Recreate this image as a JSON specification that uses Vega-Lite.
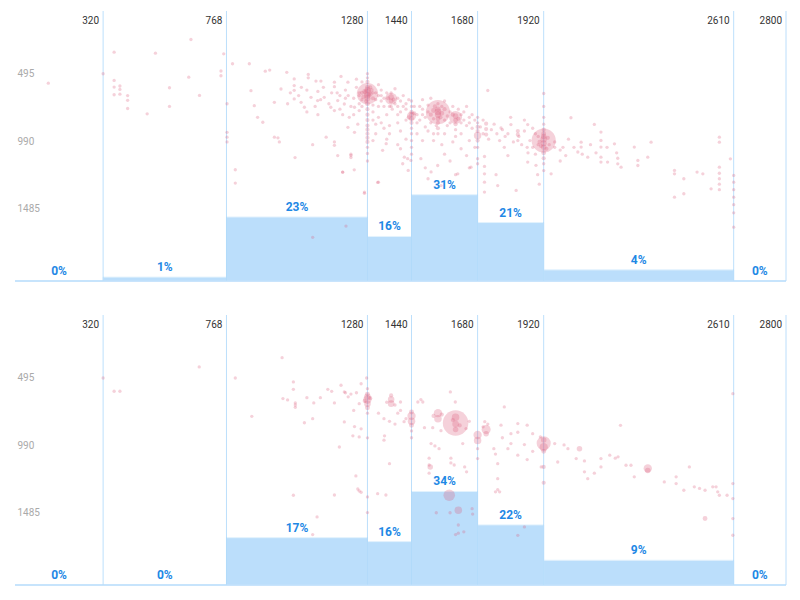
{
  "$schema": "https://vega.github.io/schema/vega-lite/v6.json",
  "padding": {"left": 14, "top": 10, "right": 15, "bottom": 17},
  "spacing": 32,
  "config": {"view": {"stroke": null}, "font": "Roboto"},
  "vconcat": [
    {
      "width": 771,
      "height": 270,
      "layer": [
        {
          "data": {"values": [
            {"lo": 0, "hi": 320, "mid": 160, "pct": 0},
            {"lo": 320, "hi": 768, "mid": 544, "pct": 0.014},
            {"lo": 768, "hi": 1280, "mid": 1024, "pct": 0.23},
            {"lo": 1280, "hi": 1440, "mid": 1360, "pct": 0.16},
            {"lo": 1440, "hi": 1680, "mid": 1560, "pct": 0.31},
            {"lo": 1680, "hi": 1920, "mid": 1800, "pct": 0.21},
            {"lo": 1920, "hi": 2610, "mid": 2265, "pct": 0.04},
            {"lo": 2610, "hi": 2800, "mid": 2705, "pct": 0}
          ]},
          "layer": [
            {
              "mark": {"type": "rect", "color": "#bbdefb", "stroke": "#e3f2fd", "strokeWidth": 1},
              "encoding": {
                "x": {"field": "lo", "type": "quantitative", "scale": {"domain": [0, 2800], "nice": false}, "axis": null},
                "x2": {"field": "hi"},
                "y": {"field": "pct", "type": "quantitative", "scale": {"domain": [0, 0.97], "nice": false}, "axis": null},
                "y2": {"datum": 0}
              }
            },
            {
              "mark": {"type": "text", "color": "#1e88e5", "fontWeight": "bold", "fontSize": 12, "baseline": "bottom", "dy": -3},
              "encoding": {
                "x": {"field": "mid", "type": "quantitative"},
                "y": {"field": "pct", "type": "quantitative"},
                "text": {"field": "pct", "type": "quantitative", "format": ".0%"}
              }
            }
          ]
        },
        {
          "layer": [
            {
              "data": {"values": [{"hi": 320}, {"hi": 768}, {"hi": 1280}, {"hi": 1440}, {"hi": 1680}, {"hi": 1920}, {"hi": 2610}, {"hi": 2800}]},
              "mark": {"type": "rule", "color": "#90caf9", "opacity": 0.6, "strokeWidth": 1},
              "encoding": {
                "x": {"field": "hi", "type": "quantitative", "scale": {"domain": [0, 2800], "nice": false}, "axis": null}
              }
            },
            {
              "data": {"values": [{}]},
              "mark": {"type": "rule", "color": "#bbdefb", "strokeWidth": 1.5},
              "encoding": {"y": {"datum": 1980}}
            },
            {
              "data": {"values": [
                {"w":121,"h":529,"n":1},{"w":320,"h":460,"n":1},{"w":360,"h":302,"n":1},{"w":360,"h":509,"n":1},{"w":360,"h":558,"n":1},{"w":360,"h":614,"n":1},{"w":381,"h":550,"n":1},{"w":381,"h":575,"n":1},{"w":381,"h":610,"n":1},{"w":409,"h":620,"n":1},{"w":409,"h":655,"n":1},{"w":409,"h":715,"n":1},{"w":510,"h":309,"n":1},{"w":561,"h":563,"n":1},{"w":561,"h":700,"n":1},{"w":480,"h":754,"n":1},{"w":639,"h":209,"n":1},{"w":631,"h":485,"n":1},{"w":670,"h":619,"n":1},{"w":758,"h":314,"n":1},{"w":748,"h":440,"n":1},{"w":748,"h":475,"n":1},{"w":770,"h":890,"n":1},{"w":770,"h":925,"n":1},{"w":770,"h":960,"n":1},{"w":770,"h":680,"n":1},{"w":800,"h":1164,"n":1},{"w":800,"h":1262,"n":1},
                {"w":790,"h":387,"n":1},{"w":851,"h":387,"n":1},{"w":909,"h":441,"n":1},{"w":925,"h":433,"n":1},{"w":987,"h":450,"n":1},{"w":1014,"h":498,"n":1},{"w":1014,"h":547,"n":1},{"w":1014,"h":582,"n":1},{"w":1065,"h":465,"n":1},{"w":1065,"h":490,"n":1},{"w":1093,"h":514,"n":1},{"w":1111,"h":514,"n":1},{"w":1160,"h":522,"n":1},{"w":1160,"h":555,"n":1},{"w":1184,"h":480,"n":1},{"w":1209,"h":522,"n":1},{"w":857,"h":584,"n":1},{"w":869,"h":694,"n":1},{"w":900,"h":816,"n":1},{"w":881,"h":780,"n":1},{"w":942,"h":670,"n":1},{"w":966,"h":572,"n":1},{"w":990,"h":680,"n":1},{"w":1014,"h":645,"n":1},{"w":1039,"h":670,"n":1},{"w":1051,"h":706,"n":1},{"w":1075,"h":633,"n":1},{"w":1099,"h":657,"n":1},{"w":1123,"h":633,"n":1},{"w":1147,"h":706,"n":1},{"w":1160,"h":730,"n":1},{"w":1172,"h":657,"n":1},{"w":1196,"h":682,"n":1},{"w":1214,"h":780,"n":1},{"w":1233,"h":706,"n":1},{"w":1130,"h":925,"n":1},{"w":1160,"h":960,"n":1},{"w":1160,"h":985,"n":1},{"w":1209,"h":853,"n":1},{"w":1172,"h":1060,"n":1},{"w":1190,"h":1182,"n":1},{"w":1220,"h":1050,"n":1},{"w":1220,"h":1075,"n":1},{"w":1233,"h":890,"n":1},{"w":1245,"h":830,"n":1},{"w":942,"h":925,"n":1},{"w":955,"h":930,"n":1},{"w":960,"h":960,"n":1},{"w":1017,"h":1075,"n":1},{"w":1081,"h":980,"n":1},{"w":1202,"h":1577,"n":1},{"w":1081,"h":1660,"n":1},{"w":1317,"h":1257,"n":1},{"w":1269,"h":1337,"n":1},{"w":1280,"h":1100,"n":1},{"w":1040,"h":560,"n":1},{"w":1100,"h":590,"n":1},{"w":1120,"h":560,"n":1},{"w":1150,"h":600,"n":1},{"w":1180,"h":620,"n":1},{"w":1200,"h":580,"n":1},{"w":1240,"h":560,"n":1},{"w":1250,"h":600,"n":1},{"w":1230,"h":640,"n":1},{"w":1260,"h":650,"n":1},{"w":1210,"h":620,"n":1},{"w":1190,"h":760,"n":1},{"w":1230,"h":760,"n":1},{"w":1250,"h":730,"n":1},{"w":1260,"h":520,"n":1},{"w":1240,"h":500,"n":1},
                {"w":1000,"h":600,"n":1},{"w":1030,"h":620,"n":1},{"w":1060,"h":580,"n":1},{"w":1090,"h":700,"n":1},{"w":1110,"h":650,"n":1},{"w":1140,"h":680,"n":1},{"w":1170,"h":600,"n":1},{"w":1200,"h":640,"n":1},{"w":1220,"h":700,"n":1},{"w":1250,"h":680,"n":1},{"w":1180,"h":720,"n":1},{"w":1100,"h":760,"n":1},{"w":1060,"h":740,"n":1},
                {"w":1280,"h":607,"n":70},{"w":1280,"h":600,"n":8},{"w":1280,"h":620,"n":6},{"w":1280,"h":580,"n":5},{"w":1280,"h":640,"n":5},{"w":1280,"h":560,"n":3},{"w":1280,"h":680,"n":3},{"w":1280,"h":720,"n":2},{"w":1280,"h":760,"n":2},{"w":1280,"h":800,"n":2},{"w":1280,"h":840,"n":2},{"w":1280,"h":870,"n":2},{"w":1280,"h":900,"n":2},{"w":1280,"h":930,"n":2},{"w":1280,"h":960,"n":2},{"w":1280,"h":1000,"n":1},{"w":1280,"h":1045,"n":1},{"w":1280,"h":520,"n":2},{"w":1280,"h":490,"n":1},{"w":1280,"h":460,"n":1},{"w":1270,"h":590,"n":3},{"w":1290,"h":610,"n":3},{"w":1265,"h":630,"n":2},{"w":1295,"h":580,"n":2},{"w":1260,"h":600,"n":2},{"w":1300,"h":640,"n":2},{"w":1275,"h":660,"n":2},{"w":1290,"h":560,"n":2},{"w":1300,"h":690,"n":1},{"w":1260,"h":700,"n":1},{"w":1310,"h":600,"n":1},{"w":1250,"h":620,"n":1},
                {"w":1366,"h":644,"n":22},{"w":1366,"h":630,"n":4},{"w":1366,"h":660,"n":3},{"w":1355,"h":640,"n":2},{"w":1375,"h":650,"n":2},{"w":1366,"h":700,"n":1},{"w":1366,"h":600,"n":1},{"w":1320,"h":620,"n":1},{"w":1330,"h":660,"n":1},{"w":1340,"h":700,"n":1},{"w":1300,"h":740,"n":1},{"w":1320,"h":780,"n":1},{"w":1350,"h":760,"n":1},{"w":1390,"h":700,"n":1},{"w":1400,"h":740,"n":1},{"w":1420,"h":680,"n":1},{"w":1410,"h":620,"n":1},{"w":1330,"h":580,"n":1},{"w":1320,"h":540,"n":1},{"w":1380,"h":570,"n":1},{"w":1310,"h":830,"n":1},{"w":1340,"h":860,"n":1},{"w":1360,"h":900,"n":1},{"w":1390,"h":820,"n":1},{"w":1400,"h":880,"n":1},{"w":1300,"h":950,"n":1},{"w":1335,"h":1022,"n":1},{"w":1348,"h":973,"n":1},{"w":1320,"h":1255,"n":1},{"w":1269,"h":1328,"n":1},{"w":1232,"h":1165,"n":1},{"w":1190,"h":1181,"n":1},{"w":1220,"h":1059,"n":1},{"w":1408,"h":1120,"n":1},{"w":1426,"h":1083,"n":1},{"w":1438,"h":1096,"n":1},
                {"w":1300,"h":600,"n":1},{"w":1310,"h":650,"n":1},{"w":1320,"h":700,"n":1},{"w":1330,"h":620,"n":1},{"w":1340,"h":640,"n":1},{"w":1350,"h":600,"n":1},{"w":1360,"h":700,"n":1},{"w":1370,"h":720,"n":1},{"w":1380,"h":680,"n":1},{"w":1390,"h":640,"n":1},{"w":1400,"h":660,"n":1},{"w":1410,"h":700,"n":1},{"w":1420,"h":720,"n":1},{"w":1430,"h":650,"n":1},{"w":1300,"h":800,"n":1},{"w":1330,"h":820,"n":1},{"w":1360,"h":840,"n":1},{"w":1390,"h":760,"n":1},{"w":1420,"h":800,"n":1},{"w":1310,"h":900,"n":1},{"w":1350,"h":940,"n":1},{"w":1390,"h":980,"n":1},{"w":1420,"h":940,"n":1},{"w":1400,"h":1010,"n":1},
                {"w":1440,"h":770,"n":12},{"w":1440,"h":760,"n":3},{"w":1440,"h":790,"n":3},{"w":1440,"h":740,"n":2},{"w":1440,"h":820,"n":2},{"w":1440,"h":700,"n":1},{"w":1440,"h":660,"n":1},{"w":1440,"h":860,"n":1},{"w":1440,"h":900,"n":1},{"w":1440,"h":950,"n":1},{"w":1440,"h":1000,"n":1},{"w":1440,"h":1050,"n":1},{"w":1430,"h":780,"n":2},{"w":1450,"h":750,"n":2},{"w":1414,"h":1072,"n":1},{"w":1428,"h":1169,"n":1},{"w":1460,"h":820,"n":1},{"w":1470,"h":700,"n":1},{"w":1480,"h":760,"n":1},{"w":1490,"h":850,"n":1},{"w":1474,"h":1083,"n":1},{"w":1490,"h":1150,"n":1},{"w":1500,"h":1230,"n":1},{"w":1511,"h":1180,"n":1},
                {"w":1450,"h":700,"n":1},{"w":1460,"h":760,"n":1},{"w":1470,"h":800,"n":1},{"w":1480,"h":720,"n":1},{"w":1490,"h":780,"n":1},{"w":1500,"h":690,"n":1},{"w":1510,"h":820,"n":1},{"w":1520,"h":790,"n":1},{"w":1530,"h":840,"n":1},{"w":1550,"h":700,"n":1},{"w":1560,"h":800,"n":1},{"w":1570,"h":840,"n":1},{"w":1580,"h":740,"n":1},{"w":1590,"h":700,"n":1},{"w":1610,"h":720,"n":1},{"w":1620,"h":820,"n":1},{"w":1630,"h":740,"n":1},{"w":1640,"h":700,"n":1},{"w":1650,"h":820,"n":1},{"w":1660,"h":760,"n":1},{"w":1670,"h":800,"n":1},{"w":1460,"h":900,"n":1},{"w":1480,"h":950,"n":1},{"w":1500,"h":880,"n":1},{"w":1520,"h":900,"n":1},{"w":1560,"h":900,"n":1},{"w":1590,"h":960,"n":1},{"w":1620,"h":900,"n":1},{"w":1650,"h":950,"n":1},{"w":1670,"h":1000,"n":1},
                {"w":1536,"h":742,"n":90},{"w":1536,"h":740,"n":6},{"w":1536,"h":760,"n":5},{"w":1536,"h":720,"n":4},{"w":1536,"h":790,"n":3},{"w":1536,"h":820,"n":2},{"w":1536,"h":860,"n":2},{"w":1520,"h":730,"n":3},{"w":1550,"h":750,"n":3},{"w":1510,"h":760,"n":2},{"w":1560,"h":720,"n":2},{"w":1525,"h":700,"n":2},{"w":1545,"h":780,"n":2},{"w":1500,"h":740,"n":1},{"w":1570,"h":770,"n":1},{"w":1536,"h":680,"n":1},{"w":1536,"h":900,"n":1},{"w":1520,"h":950,"n":1},{"w":1550,"h":980,"n":1},{"w":1535,"h":1133,"n":1},{"w":1547,"h":1280,"n":1},{"w":1560,"h":1050,"n":1},{"w":1580,"h":1100,"n":1},{"w":1600,"h":1200,"n":1},{"w":1608,"h":1194,"n":1},{"w":1620,"h":1010,"n":1},{"w":1640,"h":1060,"n":1},{"w":1650,"h":1150,"n":1},{"w":1656,"h":1145,"n":1},{"w":1510,"h":640,"n":1},{"w":1480,"h":650,"n":1},{"w":1560,"h":660,"n":1},
                {"w":1600,"h":780,"n":25},{"w":1600,"h":770,"n":4},{"w":1600,"h":800,"n":3},{"w":1590,"h":760,"n":2},{"w":1610,"h":790,"n":2},{"w":1600,"h":830,"n":2},{"w":1600,"h":870,"n":1},{"w":1600,"h":920,"n":1},{"w":1620,"h":760,"n":1},{"w":1630,"h":800,"n":1},{"w":1580,"h":820,"n":1},{"w":1640,"h":840,"n":1},{"w":1650,"h":780,"n":1},{"w":1660,"h":860,"n":1},
                {"w":1680,"h":913,"n":8},{"w":1680,"h":880,"n":2},{"w":1680,"h":850,"n":2},{"w":1680,"h":820,"n":1},{"w":1680,"h":780,"n":1},{"w":1680,"h":950,"n":2},{"w":1680,"h":1000,"n":1},{"w":1680,"h":1083,"n":1},{"w":1680,"h":1120,"n":1},{"w":1711,"h":826,"n":2},{"w":1711,"h":866,"n":2},{"w":1711,"h":906,"n":2},{"w":1705,"h":1067,"n":1},{"w":1705,"h":1140,"n":1},{"w":1705,"h":1194,"n":1},{"w":1705,"h":1255,"n":1},{"w":1705,"h":1328,"n":1},{"w":1717,"h":583,"n":1},{"w":1700,"h":800,"n":1},{"w":1740,"h":830,"n":1},{"w":1747,"h":1200,"n":1},{"w":1753,"h":1280,"n":1},{"w":1765,"h":858,"n":1},{"w":1801,"h":833,"n":1},{"w":1826,"h":880,"n":2},{"w":1826,"h":907,"n":2},{"w":1826,"h":950,"n":1},{"w":1862,"h":833,"n":1},{"w":1862,"h":1108,"n":1},{"w":1820,"h":1316,"n":1},{"w":1777,"h":1000,"n":1},{"w":1790,"h":1060,"n":1},{"w":1840,"h":980,"n":1},{"w":1863,"h":1040,"n":1},{"w":1892,"h":1132,"n":1},{"w":1898,"h":1200,"n":1},{"w":1904,"h":1270,"n":1},{"w":1947,"h":1194,"n":1},{"w":1750,"h":900,"n":1},{"w":1780,"h":920,"n":1},{"w":1800,"h":780,"n":1},{"w":1850,"h":800,"n":1},{"w":1880,"h":860,"n":1},{"w":1890,"h":900,"n":1},
                {"w":1690,"h":850,"n":1},{"w":1700,"h":900,"n":1},{"w":1720,"h":940,"n":1},{"w":1730,"h":870,"n":1},{"w":1760,"h":950,"n":1},{"w":1770,"h":870,"n":1},{"w":1790,"h":900,"n":1},{"w":1810,"h":960,"n":1},{"w":1830,"h":920,"n":1},{"w":1850,"h":880,"n":1},{"w":1870,"h":950,"n":1},{"w":1880,"h":1000,"n":1},{"w":1900,"h":980,"n":1},{"w":1890,"h":1050,"n":1},{"w":1860,"h":1000,"n":1},
                {"w":1920,"h":950,"n":90},{"w":1920,"h":940,"n":6},{"w":1920,"h":970,"n":5},{"w":1920,"h":920,"n":4},{"w":1920,"h":1000,"n":4},{"w":1920,"h":900,"n":3},{"w":1920,"h":1040,"n":3},{"w":1920,"h":870,"n":2},{"w":1920,"h":1080,"n":2},{"w":1920,"h":830,"n":1},{"w":1920,"h":780,"n":1},{"w":1920,"h":700,"n":1},{"w":1920,"h":605,"n":1},{"w":1920,"h":1120,"n":1},{"w":1920,"h":1170,"n":1},{"w":1905,"h":960,"n":2},{"w":1935,"h":930,"n":2},{"w":1910,"h":990,"n":2},{"w":1930,"h":1010,"n":2},{"w":1900,"h":920,"n":1},{"w":1940,"h":980,"n":1},
                {"w":1960,"h":960,"n":1},{"w":1980,"h":1020,"n":1},{"w":2010,"h":940,"n":1},{"w":2030,"h":1000,"n":1},{"w":2060,"h":1050,"n":1},{"w":2090,"h":980,"n":1},{"w":2110,"h":1040,"n":1},{"w":2150,"h":1000,"n":1},
                {"w":2019,"h":783,"n":1},{"w":2056,"h":962,"n":1},{"w":2056,"h":998,"n":1},{"w":2044,"h":1034,"n":1},{"w":2080,"h":1072,"n":1},{"w":2104,"h":832,"n":1},{"w":2128,"h":888,"n":1},{"w":2128,"h":949,"n":1},{"w":2128,"h":998,"n":1},{"w":2128,"h":1072,"n":1},{"w":2128,"h":1108,"n":1},{"w":2152,"h":1108,"n":1},{"w":2177,"h":974,"n":1},{"w":2185,"h":1040,"n":1},{"w":2189,"h":1080,"n":1},{"w":2189,"h":1121,"n":1},{"w":2201,"h":1145,"n":1},{"w":2249,"h":998,"n":1},{"w":2262,"h":1096,"n":1},{"w":2262,"h":1133,"n":1},{"w":2298,"h":1072,"n":1},{"w":2310,"h":962,"n":1},{"w":2395,"h":1169,"n":1},{"w":2395,"h":1194,"n":1},{"w":2395,"h":1365,"n":1},{"w":2429,"h":1230,"n":1},{"w":2429,"h":1340,"n":1},{"w":2477,"h":1181,"n":1},{"w":2498,"h":1194,"n":1},{"w":2528,"h":1304,"n":1},{"w":2558,"h":925,"n":1},{"w":2558,"h":962,"n":1},{"w":2558,"h":1145,"n":1},{"w":2558,"h":1190,"n":1},{"w":2558,"h":1230,"n":1},{"w":2558,"h":1270,"n":1},{"w":2558,"h":1310,"n":1},{"w":2598,"h":1084,"n":1},{"w":2610,"h":1206,"n":1},{"w":2610,"h":1255,"n":1},{"w":2610,"h":1310,"n":1},{"w":2610,"h":1365,"n":1},{"w":2610,"h":1420,"n":1},{"w":2610,"h":1480,"n":1},{"w":2610,"h":1585,"n":1},{"w":1990,"h":1000,"n":1},{"w":2000,"h":1060,"n":1},{"w":1980,"h":1100,"n":1},{"w":1960,"h":1000,"n":1}
              ]},
              "mark": {"type": "circle", "color": "#dc5a7a", "opacity": 0.28},
              "encoding": {
                "x": {"field": "w", "type": "quantitative", "scale": {"domain": [0, 2800], "nice": false}, "axis": null},
                "y": {
                  "field": "h", "type": "quantitative",
                  "scale": {"domain": [0, 1980], "nice": false, "reverse": true},
                  "axis": {"orient": "left", "values": [495, 990, 1485], "format": "d", "title": null, "domain": false, "ticks": false, "tickSize": 0, "labelAlign": "left", "labelBaseline": "bottom", "labelPadding": -2, "labelColor": "#aaaaaa", "labelFontSize": 10, "gridDash": [1, 3], "gridColor": "#bbbbbb"}
                },
                "size": {"field": "n", "type": "quantitative", "scale": {"domain": [1, 100], "range": [11, 650]}, "legend": null}
              }
            },
            {
              "data": {"values": [{"hi": 320}, {"hi": 768}, {"hi": 1280}, {"hi": 1440}, {"hi": 1680}, {"hi": 1920}, {"hi": 2610}, {"hi": 2800}]},
              "mark": {"type": "text", "align": "right", "baseline": "middle", "dx": -4, "dy": 10, "fontSize": 10, "color": "#333333"},
              "encoding": {
                "x": {"field": "hi", "type": "quantitative"},
                "y": {"datum": 0},
                "text": {"field": "hi", "type": "nominal"}
              }
            }
          ]
        }
      ],
      "resolve": {"scale": {"y": "independent"}}
    },
    {
      "width": 771,
      "height": 270,
      "layer": [
        {
          "data": {"values": [
            {"lo": 0, "hi": 320, "mid": 160, "pct": 0},
            {"lo": 320, "hi": 768, "mid": 544, "pct": 0},
            {"lo": 768, "hi": 1280, "mid": 1024, "pct": 0.17},
            {"lo": 1280, "hi": 1440, "mid": 1360, "pct": 0.156},
            {"lo": 1440, "hi": 1680, "mid": 1560, "pct": 0.336},
            {"lo": 1680, "hi": 1920, "mid": 1800, "pct": 0.216},
            {"lo": 1920, "hi": 2610, "mid": 2265, "pct": 0.089},
            {"lo": 2610, "hi": 2800, "mid": 2705, "pct": 0}
          ]},
          "layer": [
            {
              "mark": {"type": "rect", "color": "#bbdefb", "stroke": "#e3f2fd", "strokeWidth": 1},
              "encoding": {
                "x": {"field": "lo", "type": "quantitative", "scale": {"domain": [0, 2800], "nice": false}, "axis": null},
                "x2": {"field": "hi"},
                "y": {"field": "pct", "type": "quantitative", "scale": {"domain": [0, 0.97], "nice": false}, "axis": null},
                "y2": {"datum": 0}
              }
            },
            {
              "mark": {"type": "text", "color": "#1e88e5", "fontWeight": "bold", "fontSize": 12, "baseline": "bottom", "dy": -3},
              "encoding": {
                "x": {"field": "mid", "type": "quantitative"},
                "y": {"field": "pct", "type": "quantitative"},
                "text": {"field": "pct", "type": "quantitative", "format": ".0%"}
              }
            }
          ]
        },
        {
          "layer": [
            {
              "data": {"values": [{"hi": 320}, {"hi": 768}, {"hi": 1280}, {"hi": 1440}, {"hi": 1680}, {"hi": 1920}, {"hi": 2610}, {"hi": 2800}]},
              "mark": {"type": "rule", "color": "#90caf9", "opacity": 0.6, "strokeWidth": 1},
              "encoding": {
                "x": {"field": "hi", "type": "quantitative", "scale": {"domain": [0, 2800], "nice": false}, "axis": null}
              }
            },
            {
              "data": {"values": [{}]},
              "mark": {"type": "rule", "color": "#bbdefb", "strokeWidth": 1.5},
              "encoding": {"y": {"datum": 1980}}
            },
            {
              "data": {"values": [
                {"w":320,"h":462,"n":1},{"w":360,"h":559,"n":1},{"w":381,"h":559,"n":1},{"w":669,"h":381,"n":1},{"w":800,"h":462,"n":1},{"w":970,"h":313,"n":1},{"w":1011,"h":491,"n":1},{"w":1011,"h":545,"n":1},{"w":973,"h":613,"n":1},{"w":990,"h":623,"n":1},{"w":1018,"h":645,"n":1},{"w":1018,"h":660,"n":1},{"w":1018,"h":677,"n":1},{"w":860,"h":743,"n":1},{"w":1060,"h":606,"n":1},{"w":1081,"h":760,"n":1},{"w":1051,"h":790,"n":1},{"w":1085,"h":645,"n":1},{"w":1109,"h":606,"n":1},{"w":1136,"h":545,"n":1},{"w":1150,"h":560,"n":1},{"w":1160,"h":645,"n":1},{"w":1184,"h":515,"n":1},{"w":1200,"h":570,"n":1},{"w":1220,"h":580,"n":1},{"w":1240,"h":570,"n":1},{"w":1257,"h":504,"n":1},{"w":1277,"h":462,"n":1},{"w":1196,"h":564,"n":1},{"w":1210,"h":600,"n":1},{"w":1250,"h":650,"n":1},{"w":1230,"h":700,"n":1},{"w":1196,"h":784,"n":1},{"w":1233,"h":818,"n":1},{"w":1257,"h":835,"n":1},{"w":1227,"h":886,"n":1},{"w":1250,"h":894,"n":1},{"w":1280,"h":901,"n":1},{"w":1342,"h":886,"n":1},{"w":1340,"h":918,"n":1},{"w":1360,"h":1090,"n":1},{"w":1245,"h":1276,"n":1},{"w":1257,"h":1300,"n":1},{"w":1250,"h":1290,"n":1},{"w":1280,"h":1334,"n":1},{"w":1317,"h":1310,"n":1},{"w":1347,"h":1320,"n":1},{"w":1238,"h":1180,"n":1},{"w":1280,"h":1449,"n":1},{"w":1160,"h":1320,"n":1},{"w":1011,"h":1322,"n":1},{"w":1097,"h":1481,"n":1},{"w":1081,"h":1610,"n":1},{"w":1178,"h":968,"n":1},
                {"w":1280,"h":620,"n":10},{"w":1280,"h":600,"n":6},{"w":1280,"h":650,"n":6},{"w":1280,"h":580,"n":3},{"w":1280,"h":680,"n":3},{"w":1270,"h":630,"n":2},{"w":1290,"h":610,"n":2},{"w":1280,"h":540,"n":1},{"w":1280,"h":720,"n":1},
                {"w":1366,"h":620,"n":6},{"w":1366,"h":650,"n":6},{"w":1366,"h":590,"n":2},{"w":1350,"h":640,"n":1},{"w":1380,"h":660,"n":1},{"w":1320,"h":720,"n":1},{"w":1340,"h":760,"n":1},{"w":1390,"h":720,"n":1},{"w":1400,"h":700,"n":1},{"w":1420,"h":760,"n":1},{"w":1360,"h":780,"n":1},{"w":1380,"h":800,"n":1},{"w":1400,"h":638,"n":1},{"w":1413,"h":782,"n":1},
                {"w":1440,"h":740,"n":10},{"w":1440,"h":780,"n":8},{"w":1440,"h":711,"n":3},{"w":1440,"h":808,"n":3},{"w":1440,"h":850,"n":1},{"w":1440,"h":900,"n":1},{"w":1463,"h":638,"n":1},{"w":1481,"h":638,"n":1},{"w":1474,"h":620,"n":1},
                {"w":1536,"h":720,"n":10},{"w":1536,"h":760,"n":8},{"w":1520,"h":740,"n":2},{"w":1550,"h":730,"n":2},{"w":1487,"h":826,"n":1},{"w":1517,"h":826,"n":1},{"w":1547,"h":848,"n":1},{"w":1511,"h":943,"n":1},{"w":1525,"h":960,"n":1},{"w":1540,"h":980,"n":1},{"w":1504,"h":1050,"n":1},{"w":1504,"h":1100,"n":1},{"w":1504,"h":1160,"n":1},{"w":1508,"h":1114,"n":4},{"w":1583,"h":1085,"n":1},{"w":1595,"h":1100,"n":1},{"w":1583,"h":1050,"n":1},{"w":1581,"h":564,"n":1},{"w":1599,"h":638,"n":1},
                {"w":1600,"h":792,"n":100},{"w":1600,"h":750,"n":8},{"w":1600,"h":800,"n":6},{"w":1600,"h":840,"n":4},{"w":1590,"h":770,"n":2},{"w":1615,"h":810,"n":2},{"w":1626,"h":943,"n":1},{"w":1638,"h":833,"n":1},{"w":1650,"h":780,"n":1},{"w":1577,"h":1322,"n":20},{"w":1610,"h":1432,"n":8},{"w":1530,"h":1450,"n":1},{"w":1580,"h":1450,"n":1},{"w":1660,"h":1420,"n":1},{"w":1662,"h":1460,"n":1},{"w":1610,"h":1540,"n":1},{"w":1610,"h":1600,"n":1},{"w":1630,"h":1590,"n":1},{"w":1600,"h":1610,"n":1},
                {"w":1680,"h":880,"n":10},{"w":1680,"h":920,"n":8},{"w":1680,"h":980,"n":1},{"w":1680,"h":1053,"n":1},{"w":1633,"h":1114,"n":1},{"w":1640,"h":1150,"n":1},{"w":1711,"h":840,"n":12},{"w":1711,"h":870,"n":4},{"w":1717,"h":800,"n":1},{"w":1706,"h":782,"n":1},{"w":1700,"h":820,"n":1},{"w":1739,"h":980,"n":1},{"w":1745,"h":1020,"n":1},{"w":1753,"h":1090,"n":1},{"w":1753,"h":1200,"n":1},{"w":1753,"h":1280,"n":1},{"w":1765,"h":808,"n":1},{"w":1777,"h":674,"n":1},{"w":1801,"h":870,"n":1},{"w":1801,"h":943,"n":1},{"w":1826,"h":796,"n":1},{"w":1826,"h":860,"n":1},{"w":1826,"h":1028,"n":1},{"w":1860,"h":808,"n":1},{"w":1860,"h":1060,"n":1},{"w":1850,"h":1554,"n":1},{"w":1826,"h":1616,"n":1},{"w":1760,"h":1297,"n":1},{"w":1745,"h":1297,"n":1},{"w":1770,"h":900,"n":1},{"w":1790,"h":980,"n":1},{"w":1850,"h":950,"n":1},{"w":1880,"h":1000,"n":1},{"w":1880,"h":870,"n":1},
                {"w":1920,"h":940,"n":30},{"w":1920,"h":970,"n":10},{"w":1920,"h":916,"n":4},{"w":1920,"h":1000,"n":3},{"w":1920,"h":1114,"n":2},{"w":1920,"h":1230,"n":2},{"w":1911,"h":1114,"n":1},{"w":1908,"h":894,"n":1},{"w":1960,"h":943,"n":1},{"w":1971,"h":1078,"n":1},{"w":1994,"h":953,"n":1},{"w":2008,"h":980,"n":1},{"w":2050,"h":980,"n":4},{"w":2038,"h":1053,"n":1},{"w":2068,"h":1070,"n":1},{"w":2068,"h":1150,"n":1},{"w":2080,"h":1200,"n":1},{"w":2104,"h":1160,"n":1},{"w":2128,"h":1053,"n":1},{"w":2128,"h":1114,"n":1},{"w":2160,"h":1028,"n":1},{"w":2180,"h":1050,"n":1},{"w":2190,"h":1040,"n":1},{"w":2199,"h":809,"n":1},{"w":2219,"h":1102,"n":1},{"w":2237,"h":1102,"n":1},{"w":2249,"h":1187,"n":1},{"w":2298,"h":1125,"n":10},{"w":2298,"h":1140,"n":4},{"w":2358,"h":1224,"n":1},{"w":2401,"h":1187,"n":1},{"w":2401,"h":1236,"n":1},{"w":2429,"h":1285,"n":1},{"w":2449,"h":1114,"n":1},{"w":2467,"h":1260,"n":1},{"w":2486,"h":1272,"n":1},{"w":2506,"h":1285,"n":1},{"w":2506,"h":1492,"n":3},{"w":2534,"h":1260,"n":1},{"w":2546,"h":1260,"n":1},{"w":2552,"h":1297,"n":1},{"w":2558,"h":1322,"n":1},{"w":2586,"h":1322,"n":1},{"w":2607,"h":577,"n":1},{"w":2607,"h":1236,"n":1},{"w":2607,"h":1346,"n":1},{"w":2607,"h":1493,"n":1},{"w":2607,"h":1615,"n":1}
              ]},
              "mark": {"type": "circle", "color": "#dc5a7a", "opacity": 0.28},
              "encoding": {
                "x": {"field": "w", "type": "quantitative", "scale": {"domain": [0, 2800], "nice": false}, "axis": null},
                "y": {
                  "field": "h", "type": "quantitative",
                  "scale": {"domain": [0, 1980], "nice": false, "reverse": true},
                  "axis": {"orient": "left", "values": [495, 990, 1485], "format": "d", "title": null, "domain": false, "ticks": false, "tickSize": 0, "labelAlign": "left", "labelBaseline": "bottom", "labelPadding": -2, "labelColor": "#aaaaaa", "labelFontSize": 10, "gridDash": [1, 3], "gridColor": "#bbbbbb"}
                },
                "size": {"field": "n", "type": "quantitative", "scale": {"domain": [1, 100], "range": [11, 650]}, "legend": null}
              }
            },
            {
              "data": {"values": [{"hi": 320}, {"hi": 768}, {"hi": 1280}, {"hi": 1440}, {"hi": 1680}, {"hi": 1920}, {"hi": 2610}, {"hi": 2800}]},
              "mark": {"type": "text", "align": "right", "baseline": "middle", "dx": -4, "dy": 10, "fontSize": 10, "color": "#333333"},
              "encoding": {
                "x": {"field": "hi", "type": "quantitative"},
                "y": {"datum": 0},
                "text": {"field": "hi", "type": "nominal"}
              }
            }
          ]
        }
      ],
      "resolve": {"scale": {"y": "independent"}}
    }
  ]
}
